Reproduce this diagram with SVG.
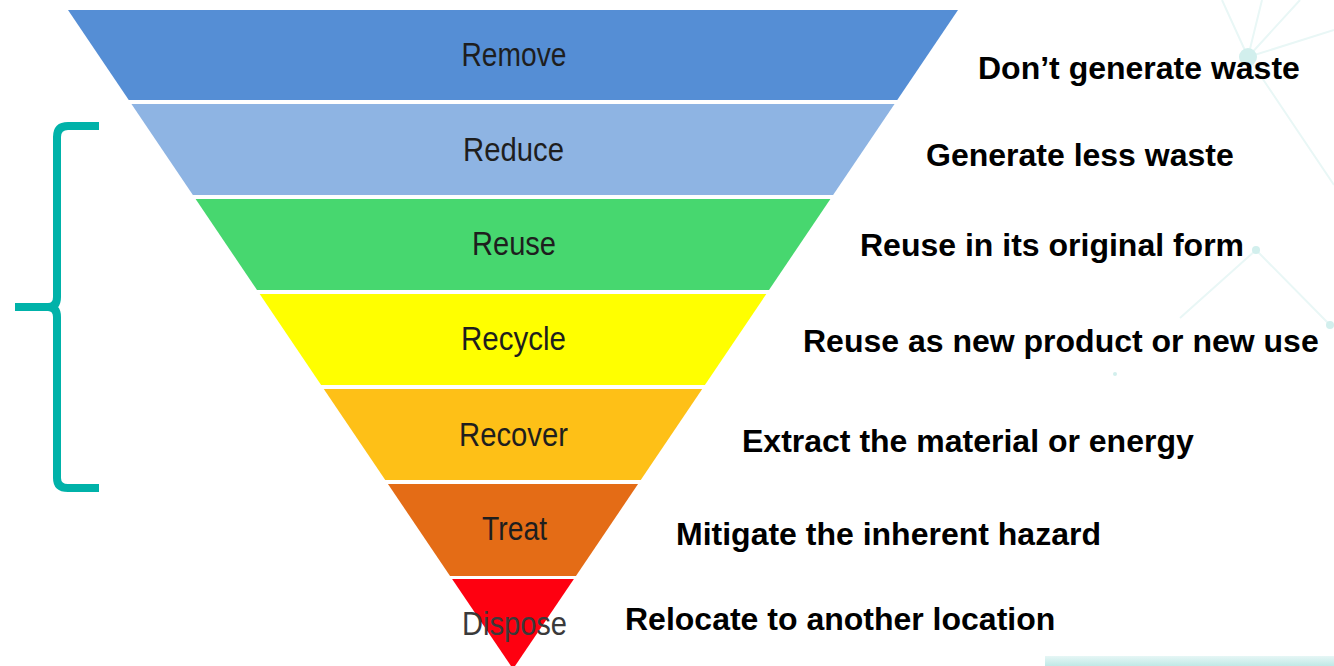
<svg xmlns="http://www.w3.org/2000/svg" width="1334" height="666" viewBox="0 0 1334 666">
  <defs>
    <linearGradient id="strip" x1="0" y1="0" x2="0" y2="1">
      <stop offset="0" stop-color="#e6f6f5"/>
      <stop offset="1" stop-color="#bfe9e6"/>
    </linearGradient>
  </defs>
  <style>
    .lbl { font-family: "Liberation Sans", Arial, sans-serif; font-size: 33px; fill: #1e1e1e; text-anchor: middle; }
    .desc { font-family: "Liberation Sans", Arial, sans-serif; font-size: 32px; font-weight: bold; fill: #000; }
    .deco { stroke: #e9f7f6; stroke-width: 2; fill: none; }
    .dot { fill: #d2efed; }
    .brace { fill: none; stroke: #00B2A9; stroke-width: 8; stroke-linejoin: round; }
  </style>
  <rect width="1334" height="666" fill="#ffffff"/>
  <g id="background">
    <path class="deco" d="M1248 57 L1222 0 M1248 57 L1262 0 M1248 57 L1300 0 M1248 57 L1334 30 M1248 57 L1334 185 M1256 250 L1180 318 M1256 250 L1330 325"/>
    <circle class="dot" cx="1248" cy="57" r="9"/>
    <circle class="dot" cx="1256" cy="250" r="4"/>
    <circle class="dot" cx="1330" cy="325" r="4"/>
    <circle class="dot" cx="1115" cy="374" r="2"/>
    <rect x="1045" y="656" width="289" height="10" fill="url(#strip)"/>
  </g>
  <g id="remove">
    <polygon points="68,10 958,10 897.25,100 128.75,100" fill="#558ED5"/>
    <text class="lbl" x="514" y="66" textLength="105" lengthAdjust="spacingAndGlyphs">Remove</text>
  </g>
  <g id="reduce">
    <polygon points="131.45,104 894.55,104 833.1,195 192.9,195" fill="#8EB4E3"/>
    <text class="lbl" x="513.5" y="161" textLength="101" lengthAdjust="spacingAndGlyphs">Reduce</text>
  </g>
  <g id="reuse">
    <polygon points="195.6,199 830.4,199 769,290 257,290" fill="#47D76F"/>
    <text class="lbl" x="514" y="255" textLength="84" lengthAdjust="spacingAndGlyphs">Reuse</text>
  </g>
  <g id="recycle">
    <polygon points="259.7,294 766.3,294 704.9,385 321.1,385" fill="#FFFF00"/>
    <text class="lbl" x="513.5" y="350" textLength="105" lengthAdjust="spacingAndGlyphs">Recycle</text>
  </g>
  <g id="recover">
    <polygon points="323.8,389 702.2,389 640.75,480 385.25,480" fill="#FEC017"/>
    <text class="lbl" x="513.5" y="446" textLength="109" lengthAdjust="spacingAndGlyphs">Recover</text>
  </g>
  <g id="treat">
    <polygon points="387.95,484 638.05,484 575.95,576 450.05,576" fill="#E46C16"/>
    <text class="lbl" x="514.5" y="540" textLength="65" lengthAdjust="spacingAndGlyphs">Treat</text>
  </g>
  <g id="dispose">
    <polygon points="452.1,579 573.9,579 513,669" fill="#FE0010"/>
    <text class="lbl" x="514.5" y="635" textLength="105" lengthAdjust="spacingAndGlyphs" style="fill:#3a3a3a">Dispose</text>
  </g>
  <g id="descriptions">
    <text class="desc" x="978" y="79">Don’t generate waste</text>
    <text class="desc" x="926" y="166">Generate less waste</text>
    <text class="desc" x="860" y="256">Reuse in its original form</text>
    <text class="desc" x="803" y="352">Reuse as new product or new use</text>
    <text class="desc" x="742" y="452">Extract the material or energy</text>
    <text class="desc" x="676" y="545">Mitigate the inherent hazard</text>
    <text class="desc" x="625" y="630">Relocate to another location</text>
  </g>
  <g id="connectors">
    <path class="brace" d="M99 126 H68 Q57 126 57 137 V297 Q57 307 48 307 H15 M48 307 Q57 307 57 317 V478 Q57 488 68 488 H99"/>
  </g>
</svg>
